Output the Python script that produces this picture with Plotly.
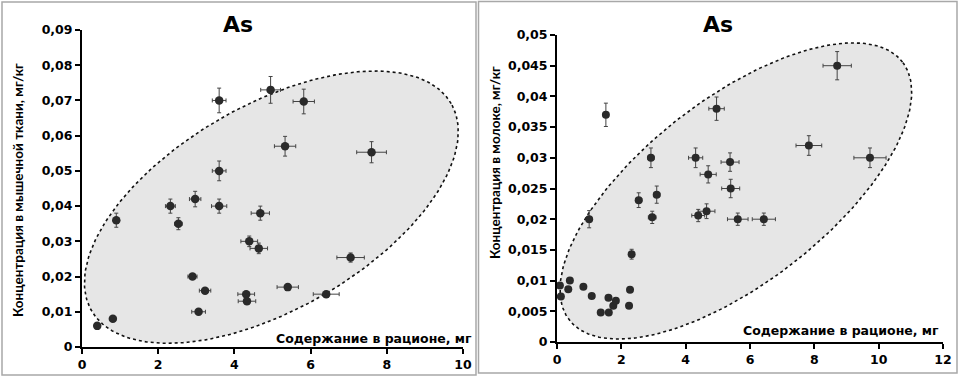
import numpy as np
import plotly.graph_objects as go

# ---------------- data ----------------
left_x = [3.6, 4.95, 5.82, 5.33, 7.6, 3.6, 2.32, 2.97, 3.6, 0.9, 2.53, 4.68, 4.39, 4.64,
          7.05, 2.9, 3.23, 5.4, 6.41, 4.31, 4.33, 3.06, 0.81, 0.40]
left_y = [0.070, 0.073, 0.0697, 0.057, 0.0553, 0.050, 0.040, 0.042, 0.040, 0.036, 0.035,
          0.038, 0.030, 0.028, 0.0254, 0.020, 0.016, 0.017, 0.015, 0.015, 0.013, 0.010,
          0.008, 0.006]
left_xerr = [0.18, 0.26, 0.28, 0.28, 0.39, 0.18, 0.13, 0.15, 0.2, 0.08, 0.1, 0.24, 0.22,
             0.23, 0.36, 0.12, 0.15, 0.28, 0.34, 0.22, 0.23, 0.18, 0, 0]
left_yerr = [0.0035, 0.0038, 0.0035, 0.0028, 0.003, 0.0028, 0.002, 0.0022, 0.002, 0.002,
             0.0017, 0.002, 0.0015, 0.0015, 0.0013, 0.0008, 0.0008, 0.0008, 0.0008,
             0.0008, 0.0008, 0.0008, 0, 0]

right_x = [1.52, 8.71, 4.96, 7.83, 9.73, 2.92, 4.31, 4.70, 5.38, 5.40, 2.54, 3.10, 1.00,
           2.96, 4.39, 4.65, 5.62, 6.43, 2.32, 0.09, 0.12, 0.40, 0.35, 0.82, 1.08, 1.36,
           1.61, 1.60, 1.75, 1.83, 2.24, 2.27]
right_y = [0.037, 0.045, 0.038, 0.032, 0.030, 0.030, 0.030, 0.0273, 0.0293, 0.025, 0.0231,
           0.024, 0.020, 0.0203, 0.0206, 0.0213, 0.020, 0.020, 0.0143, 0.0092, 0.0074,
           0.0100, 0.0086, 0.0090, 0.0075, 0.0048, 0.0048, 0.0072, 0.0059, 0.0067,
           0.0059, 0.0085]
right_xerr = [0, 0.44, 0.24, 0.40, 0.5, 0.1, 0.22, 0.25, 0.28, 0.28, 0.1, 0.1, 0.06, 0.12,
              0.2, 0.26, 0.32, 0.36, 0.08] + [0] * 13
right_yerr = [0.0019, 0.0023, 0.0019, 0.0016, 0.0016, 0.0016, 0.0016, 0.0014, 0.0015,
              0.0015, 0.0012, 0.0014, 0.0014, 0.001, 0.001, 0.0012, 0.001, 0.001,
              0.0008] + [0] * 13

left_yticks = [0, 0.01, 0.02, 0.03, 0.04, 0.05, 0.06, 0.07, 0.08, 0.09]
left_yticktext = ["0", "0,01", "0,02", "0,03", "0,04", "0,05", "0,06", "0,07", "0,08", "0,09"]
right_yticks = [0, 0.005, 0.01, 0.015, 0.02, 0.025, 0.03, 0.035, 0.04, 0.045, 0.05]
right_yticktext = ["0", "0,005", "0,01", "0,015", "0,02", "0,025", "0,03", "0,035",
                   "0,04", "0,045", "0,05"]

title_text = "As"
left_ytitle = "Концентрация в мышечной ткани, мг/кг"
right_ytitle = "Концентрация в молоке, мг/кг"
xtitle = "Содержание в рационе, мг"

# ellipse outlines (centre, two semi-axis vectors in data units)
left_ell = dict(c=(4.97, 0.0397), u=(4.72, 0.0294), v=(-1.34, 0.0251))
right_ell = dict(c=(5.56, 0.0246), u=(5.18, 0.0210), v=(-1.75, 0.01187))

WIDE = "DejaVu Sans"
NARROW = "Lato"
W, H = 959, 377


def ellipse(e):
    t = np.linspace(0, 2 * np.pi, 240)
    x = e["c"][0] + e["u"][0] * np.cos(t) + e["v"][0] * np.sin(t)
    y = e["c"][1] + e["u"][1] * np.cos(t) + e["v"][1] * np.sin(t)
    return x, y


fig = go.Figure()

for ell, xa, ya in [(left_ell, "x", "y"), (right_ell, "x2", "y2")]:
    ex, ey = ellipse(ell)
    fig.add_trace(go.Scatter(x=ex, y=ey, xaxis=xa, yaxis=ya, mode="lines", fill="toself",
                             fillcolor="#e6e6e6", line=dict(color="#111", width=1.6, dash="dot"),
                             hoverinfo="skip", showlegend=False))

for xs, ys, xe, ye, xa, ya, ms in [(left_x, left_y, left_xerr, left_yerr, "x", "y", 8.5),
                                   (right_x, right_y, right_xerr, right_yerr, "x2", "y2", 8)]:
    fig.add_trace(go.Scatter(
        x=xs, y=ys, xaxis=xa, yaxis=ya, mode="markers",
        marker=dict(size=ms, color="#2a2a2a"),
        error_x=dict(type="data", array=xe, color="#444", thickness=1, width=2),
        error_y=dict(type="data", array=ye, color="#444", thickness=1, width=2),
        showlegend=False, cliponaxis=False))


def px(x):
    return x / W


def py(y):
    return 1 - y / H


axis_common = dict(showline=True, linecolor="black", linewidth=2, ticks="outside",
                   ticklen=5, tickwidth=1.5, tickcolor="black", showgrid=False,
                   zeroline=False, automargin=False,
                   tickfont=dict(family=WIDE, size=12.5, color="black", weight="bold"))

fig.update_layout(
    width=W, height=H, autosize=False,
    margin=dict(l=0, r=0, t=0, b=0),
    paper_bgcolor="white", plot_bgcolor="rgba(0,0,0,0)",
    xaxis=dict(domain=[px(82), px(463)], range=[0, 10], tickvals=[0, 2, 4, 6, 8, 10],
               anchor="y", **axis_common),
    yaxis=dict(domain=[py(347), py(30)], range=[0, 0.09], tickvals=left_yticks,
               ticktext=left_yticktext, anchor="x", **axis_common),
    xaxis2=dict(domain=[px(557), px(943)], range=[0, 12], tickvals=[0, 2, 4, 6, 8, 10, 12],
                anchor="y2", **axis_common),
    yaxis2=dict(domain=[py(342), py(35)], range=[0, 0.05], tickvals=right_yticks,
                ticktext=right_yticktext, anchor="x2", **axis_common),
    shapes=[
        dict(type="rect", xref="paper", yref="paper", x0=px(2), x1=px(476), y0=py(375),
             y1=py(2), line=dict(color="#a8a8a8", width=1.5), layer="below"),
        dict(type="rect", xref="paper", yref="paper", x0=px(478.5), x1=px(957), y0=py(373),
             y1=py(1.5), line=dict(color="#a8a8a8", width=1.5), layer="below"),
    ],
)

ann = []
for title_x, ytitle, ytx, yty, xtx, xty in [
        (238, left_ytitle, 18, 190, 474, 338),
        (718, right_ytitle, 495, 163, 941, 330)]:
    ann.append(dict(text=title_text, x=px(title_x), y=py(25), xref="paper", yref="paper",
                    showarrow=False, font=dict(family=WIDE, size=22, color="black",
                                               weight="bold"),
                    xanchor="center", yanchor="middle"))
    ann.append(dict(text=ytitle, x=px(ytx), y=py(yty), xref="paper", yref="paper",
                    showarrow=False, textangle=-90,
                    font=dict(family=NARROW, size=13.5, color="black", weight="bold"),
                    xanchor="center", yanchor="middle"))
    ann.append(dict(text=xtitle, x=px(xtx), y=py(xty), xref="paper", yref="paper",
                    showarrow=False,
                    font=dict(family=WIDE, size=12.5, color="black", weight="bold"),
                    xanchor="right", yanchor="middle"))
fig.update_layout(annotations=ann)

fig.write_html("out.html", config={"displayModeBar": False},
               post_script="document.body.style.margin='0';document.body.style.overflow='hidden';")
